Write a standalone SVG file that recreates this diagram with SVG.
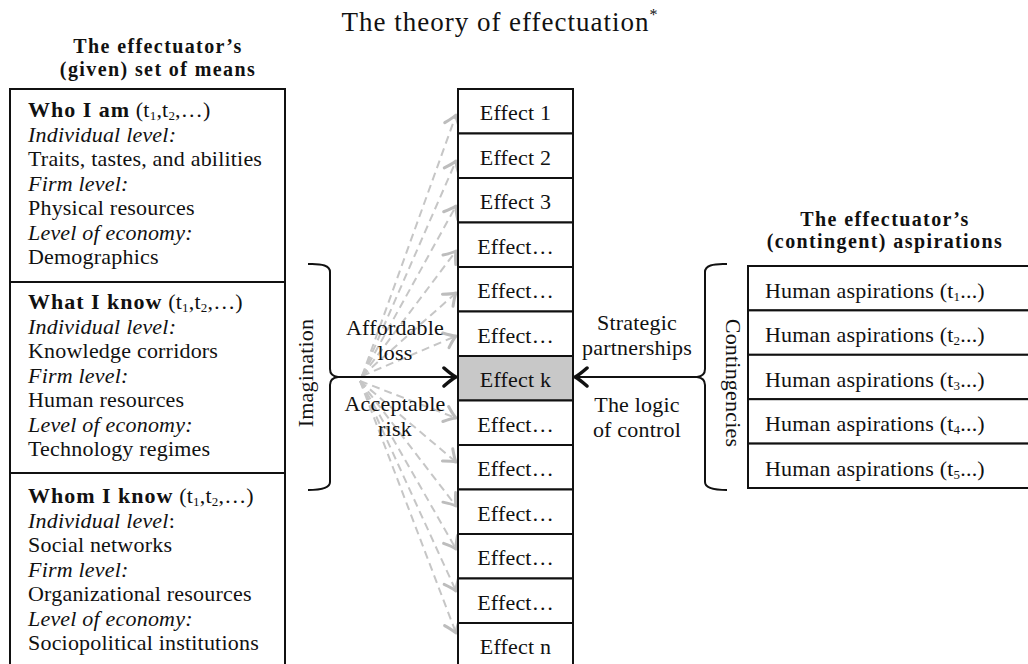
<svg xmlns="http://www.w3.org/2000/svg" width="1028" height="664" viewBox="0 0 1028 664">
  <style>
    text { font-family: "Liberation Serif", "Times New Roman", serif; fill: #111; }
    .body { font-size: 22px; letter-spacing: 0.2px; }
    .it { font-style: italic; }
    .bf { font-weight: bold; letter-spacing: 1px; }
    .head { font-size: 20px; font-weight: bold; letter-spacing: 1.4px; text-anchor: middle; }
    .title { font-size: 27px; letter-spacing: 1px; text-anchor: middle; }
    .mid { text-anchor: middle; }
    .sub { font-size: 13px; }
    .box { fill: #fff; stroke: #111; stroke-width: 2; }
    .boxk { fill: #c8c8c8; stroke: #111; stroke-width: 2; }
    .brace { fill: none; stroke: #111; stroke-width: 2; stroke-linejoin: round; }
    .main { fill: none; stroke: #111; stroke-width: 2.2; marker-end: url(#blackHead); }
    .fan { fill: none; stroke: #c6c6c6; stroke-width: 2; stroke-dasharray: 8 5; marker-end: url(#greyHead); }
  </style>
  <defs>
    <marker id="blackHead" markerUnits="userSpaceOnUse" viewBox="-14 -11 16 22" markerWidth="16" markerHeight="22" refX="0" refY="0" orient="auto">
      <path d="M -12 -9 Q -4 -2 0 0 Q -4 2 -12 9" fill="none" stroke="#111" stroke-width="3.5" stroke-linecap="round" stroke-linejoin="round"/>
    </marker>
    <marker id="greyHead" markerUnits="userSpaceOnUse" viewBox="-13 -10 15 20" markerWidth="15" markerHeight="20" refX="0" refY="0" orient="auto">
      <path d="M -11 -8 Q -4 -2 0 0 Q -4 2 -11 8" fill="none" stroke="#bdbdbd" stroke-width="3" stroke-linecap="round" stroke-linejoin="round"/>
    </marker>
  </defs>

  <rect width="1028" height="664" fill="#fff"/>

  <text class="title" x="500" y="31">The theory of effectuation<tspan font-size="16" dy="-11">*</tspan></text>

  <!-- headers -->
  <g id="means-header">
    <text class="head" x="158" y="53">The effectuator’s</text>
    <text class="head" x="158" y="76">(given) set of means</text>
  </g>
  <g id="aspirations-header">
    <text class="head" x="885" y="226">The effectuator’s</text>
    <text class="head" x="885" y="248">(contingent) aspirations</text>
  </g>

  <!-- connectors -->
  <g id="connectors">
    <!-- dashed fan from the means towards every effect -->
    <path class="fan" d="M 362 376 L 456 115"/>
    <path class="fan" d="M 362 376 L 456 161"/>
    <path class="fan" d="M 362 376 L 456 206"/>
    <path class="fan" d="M 362 376 L 456 251"/>
    <path class="fan" d="M 362 376 L 456 293"/>
    <path class="fan" d="M 362 376 L 456 336"/>
    <path class="fan" d="M 360 381 L 456 418"/>
    <path class="fan" d="M 360 381 L 456 462"/>
    <path class="fan" d="M 360 381 L 456 506"/>
    <path class="fan" d="M 360 381 L 456 549"/>
    <path class="fan" d="M 360 381 L 456 591"/>
    <path class="fan" d="M 360 381 L 456 633"/>
    <!-- braces -->
    <path class="brace" d="M 308 264 Q 330 263 330 272 L 330 369 Q 330 376 338 377 Q 330 378 330 385 L 330 482 Q 330 490 308 490"/>
    <path class="brace" d="M 727 264 Q 705 263 705 272 L 705 369 Q 705 376 697 377 Q 705 378 705 385 L 705 482 Q 705 490 727 490"/>
    <!-- main arrows into Effect k -->
    <path class="main" d="M 338 377 L 456 377"/>
    <path class="main" d="M 697 377 L 575 377"/>
  </g>

  <!-- left column: the set of means -->
  <g id="means">
    <rect class="box" x="10" y="89" width="275" height="600"/>
    <line x1="10" y1="282" x2="285" y2="282" stroke="#111" stroke-width="2"/>
    <line x1="10" y1="473" x2="285" y2="473" stroke="#111" stroke-width="2"/>
  </g>
  <g id="who-i-am">
    <text class="body" x="28" y="117"><tspan class="bf">Who I am</tspan> (t<tspan class="sub" dy="3">1</tspan><tspan dy="-3">,t</tspan><tspan class="sub" dy="3">2</tspan><tspan dy="-3">,…)</tspan></text>
    <text class="body it" x="28" y="141.5">Individual level:</text>
    <text class="body" x="28" y="166">Traits, tastes, and abilities</text>
    <text class="body it" x="28" y="190.5">Firm level:</text>
    <text class="body" x="28" y="215">Physical resources</text>
    <text class="body it" x="28" y="239.5">Level of economy:</text>
    <text class="body" x="28" y="264">Demographics</text>
  </g>
  <g id="what-i-know">
    <text class="body" x="28" y="309"><tspan class="bf">What I know</tspan> (t<tspan class="sub" dy="3">1</tspan><tspan dy="-3">,t</tspan><tspan class="sub" dy="3">2</tspan><tspan dy="-3">,…)</tspan></text>
    <text class="body it" x="28" y="333.5">Individual level:</text>
    <text class="body" x="28" y="358">Knowledge corridors</text>
    <text class="body it" x="28" y="382.5">Firm level:</text>
    <text class="body" x="28" y="407">Human resources</text>
    <text class="body it" x="28" y="431.5">Level of economy:</text>
    <text class="body" x="28" y="456">Technology regimes</text>
  </g>
  <g id="whom-i-know">
    <text class="body" x="28" y="503"><tspan class="bf">Whom I know</tspan> (t<tspan class="sub" dy="3">1</tspan><tspan dy="-3">,t</tspan><tspan class="sub" dy="3">2</tspan><tspan dy="-3">,…)</tspan></text>
    <text class="body" x="28" y="527.5"><tspan class="it">Individual level</tspan>:</text>
    <text class="body" x="28" y="552">Social networks</text>
    <text class="body it" x="28" y="576.5">Firm level:</text>
    <text class="body" x="28" y="601">Organizational resources</text>
    <text class="body it" x="28" y="625.5">Level of economy:</text>
    <text class="body" x="28" y="650">Sociopolitical institutions</text>
  </g>

  <!-- middle column: effects -->
  <g id="effect-1"><rect class="box" x="458" y="89" width="115" height="44.5"/><text class="body mid" x="515.5" y="120">Effect 1</text></g>
  <g id="effect-2"><rect class="box" x="458" y="133.5" width="115" height="44.5"/><text class="body mid" x="515.5" y="164.5">Effect 2</text></g>
  <g id="effect-3"><rect class="box" x="458" y="178" width="115" height="44.5"/><text class="body mid" x="515.5" y="209">Effect 3</text></g>
  <g id="effect-4"><rect class="box" x="458" y="222.5" width="115" height="44.5"/><text class="body mid" x="515.5" y="253.5">Effect…</text></g>
  <g id="effect-5"><rect class="box" x="458" y="267" width="115" height="44.5"/><text class="body mid" x="515.5" y="298">Effect…</text></g>
  <g id="effect-6"><rect class="box" x="458" y="311.5" width="115" height="44.5"/><text class="body mid" x="515.5" y="342.5">Effect…</text></g>
  <g id="effect-k"><rect class="boxk" x="458" y="356" width="115" height="44.5"/><text class="body mid" x="515.5" y="387">Effect k</text></g>
  <g id="effect-8"><rect class="box" x="458" y="400.5" width="115" height="44.5"/><text class="body mid" x="515.5" y="431.5">Effect…</text></g>
  <g id="effect-9"><rect class="box" x="458" y="445" width="115" height="44.5"/><text class="body mid" x="515.5" y="476">Effect…</text></g>
  <g id="effect-10"><rect class="box" x="458" y="489.5" width="115" height="44.5"/><text class="body mid" x="515.5" y="520.5">Effect…</text></g>
  <g id="effect-11"><rect class="box" x="458" y="534" width="115" height="44.5"/><text class="body mid" x="515.5" y="565">Effect…</text></g>
  <g id="effect-12"><rect class="box" x="458" y="578.5" width="115" height="44.5"/><text class="body mid" x="515.5" y="609.5">Effect…</text></g>
  <g id="effect-n"><rect class="box" x="458" y="623" width="115" height="50"/><text class="body mid" x="515.5" y="654">Effect n</text></g>

  <!-- right column: aspirations -->
  <g id="aspiration-1"><rect class="box" x="748" y="266" width="300" height="44.4"/><text class="body" x="765" y="298">Human aspirations (t<tspan class="sub" dy="3">1</tspan><tspan dy="-3">...)</tspan></text></g>
  <g id="aspiration-2"><rect class="box" x="748" y="310.4" width="300" height="44.4"/><text class="body" x="765" y="342.4">Human aspirations (t<tspan class="sub" dy="3">2</tspan><tspan dy="-3">...)</tspan></text></g>
  <g id="aspiration-3"><rect class="box" x="748" y="354.8" width="300" height="44.4"/><text class="body" x="765" y="386.8">Human aspirations (t<tspan class="sub" dy="3">3</tspan><tspan dy="-3">...)</tspan></text></g>
  <g id="aspiration-4"><rect class="box" x="748" y="399.2" width="300" height="44.4"/><text class="body" x="765" y="431.2">Human aspirations (t<tspan class="sub" dy="3">4</tspan><tspan dy="-3">...)</tspan></text></g>
  <g id="aspiration-5"><rect class="box" x="748" y="443.6" width="300" height="44.4"/><text class="body" x="765" y="475.6">Human aspirations (t<tspan class="sub" dy="3">5</tspan><tspan dy="-3">...)</tspan></text></g>

  <!-- labels along the arrows -->
  <g id="labels">
    <text class="body mid" transform="translate(313 373) rotate(-90)">Imagination</text>
    <text class="body mid" transform="translate(726 383) rotate(90)">Contingencies</text>
    <text class="body mid" x="395" y="335">Affordable</text>
    <text class="body mid" x="395" y="360">loss</text>
    <text class="body mid" x="395" y="411">Acceptable</text>
    <text class="body mid" x="395" y="436">risk</text>
    <text class="body mid" x="637" y="330">Strategic</text>
    <text class="body mid" x="637" y="355">partnerships</text>
    <text class="body mid" x="637" y="412">The logic</text>
    <text class="body mid" x="637" y="437">of control</text>
  </g>
</svg>
